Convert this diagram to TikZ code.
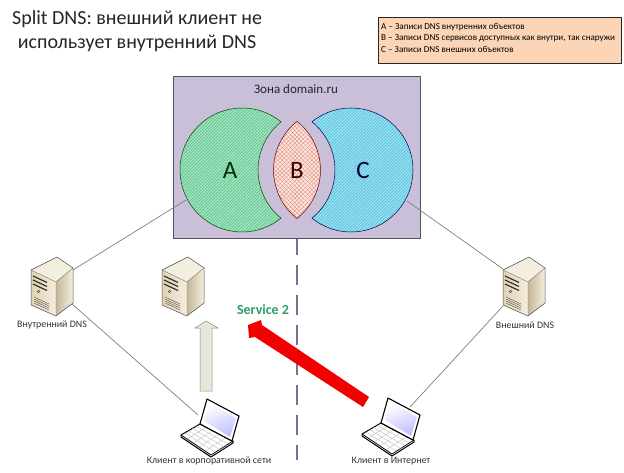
\documentclass[tikz,border=0pt]{standalone}
\usepackage{fontspec}
\setmainfont{Carlito}
\usetikzlibrary{patterns.meta,calc}
\definecolor{zonefill}{HTML}{C9BFD8}
\definecolor{zoneline}{HTML}{55505E}
\definecolor{legendfill}{HTML}{FBD5B5}
\definecolor{greenfill}{HTML}{9CE6BC}
\definecolor{greenhatch}{HTML}{4FA67C}
\definecolor{bluefill}{HTML}{90E2F4}
\definecolor{bluehatch}{HTML}{4FA8C4}
\definecolor{pinkfill}{HTML}{FDE6DE}
\definecolor{pinkhatch}{HTML}{E08A80}
\definecolor{linkgray}{HTML}{808080}
\definecolor{dashc}{HTML}{7A7090}
\definecolor{srvdark}{HTML}{B7A47E}
\definecolor{srvlight}{HTML}{F4EEDF}
\definecolor{srvmid}{HTML}{E2D3B2}
\definecolor{uparrow}{HTML}{E4E8D8}
\definecolor{svcgreen}{HTML}{2E9E6A}
\tikzset{
  x=1pt,y=1pt,
  link/.style={draw=linkgray,line width=.7pt},
  lab/.style={font=\fontsize{9.9}{11}\selectfont,text=black!80,inner sep=0pt},
  lobe/.style={line width=.5pt},
  bigletter/.style={font=\fontsize{25}{27}\selectfont,inner sep=0pt},
  leg/.style={font=\fontsize{9.1}{10}\selectfont,anchor=west,inner sep=0pt},
  title/.style={font=\fontsize{20}{22}\selectfont,inner sep=0pt,text=black!85},
  server/.pic={
    \begin{scope}[yscale=-1]
      \fill[srvlight] (0,0) -- (26,-13) -- (42,-2) -- (25,12) -- cycle;
      \shade[left color=srvmid,right color=srvlight] (0,0) -- (25,12) -- (25,46) -- (0,35) -- cycle;
      \shade[left color=srvdark!80,right color=srvlight] (25,12) -- (42,-2) -- (42,33) -- (25,46) -- cycle;
      \draw[black!70,line width=.5pt,line join=round] (0,0) -- (26,-13) -- (42,-2) -- (42,33) -- (25,46) -- (0,35) -- cycle;
      \draw[black!55,line width=.4pt] (0,0) -- (25,12) -- (42,-2) (25,12) -- (25,46);
      \foreach \s in {0,4,8}{\draw[black!80,line width=1.2pt] (2,6+\s) -- (16,12.5+\s);}
      \draw[black!70,line width=.5pt,fill=white] (7.5,21.5) circle[radius=1.2];
      \foreach \s in {0,2,4,6}{\draw[black!60,line width=.5pt] (3,27+\s) -- (18,34+\s);}
    \end{scope}
  },
  laptop/.pic={
    \begin{scope}[yscale=-1]
      \draw[black,line width=1pt,fill=white,line join=round] (-7,25) -- (-26,36) -- (-26,38) -- (4,58) -- (26,44) -- (26,42) -- (25,42) -- cycle;
      \draw[black,line width=.7pt] (-26,36) -- (4,56) -- (26,42);
      \foreach \s in {.2,.4,.6,.8}{
        \draw[black!25,line width=.4pt] ($(-7,25)!\s!(-26,36)$) -- ($(25,42)!\s!(4,56)$);
        \draw[black!25,line width=.4pt] ($(-7,25)!\s!(25,42)$) -- ($(-26,36)!\s!(4,56)$);
      }
      \draw[black,line width=1.1pt,fill=white,line join=round] (0,0) -- (32,17) -- (25,42) -- (-7,25) -- cycle;
      \shade[left color=white,right color=blue!25!white,shading angle=20] (3,4) -- (29,19) -- (23,38) -- (-3,22) -- cycle;
    \end{scope}
  },
}
\begin{document}
\begin{tikzpicture}
\useasboundingbox (0,0) rectangle (624,472);
\fill[white] (0,0) rectangle (624,472);

% title
\node[title] (t1) at (137,453) {Split DNS: внешний клиент не};
\node[title] (t2) at (137,429) {использует внутренний DNS};

% legend
\node[draw=black!85,line width=.9pt,fill=legendfill,minimum width=243pt,minimum height=46pt,inner sep=0pt] (legend) at (500,431.5) {};
\node[leg] (l1) at (381,445) {A – Записи DNS внутренних объектов};
\node[leg] (l2) at (381,434) {B – Записи DNS сервисов доступных как внутри, так снаружи};
\node[leg] (l3) at (381,423) {C – Записи DNS внешних объектов};

% divider
\coordinate (divtop) at (297,233);
\coordinate (divbot) at (297,12);
\draw[dashc,line width=2pt,dash pattern=on 20pt off 10pt,dash phase=4pt] (divtop) -- (divbot);

% zone
\node[draw=zoneline,line width=1pt,fill=zonefill,minimum width=247pt,minimum height=162pt,inner sep=0pt] (zone) at (296.5,314) {};
\node[font=\fontsize{13}{15}\selectfont,inner sep=0pt,text=black!85] (zlabel) at (296,383) {Зона domain.ru};

% lobes
\def\lobeA{(242,302) ++(51:62) arc[start angle=51,end angle=309,radius=62]
  arc[start angle=231,end angle=129,radius=62] -- cycle}
\def\lobeC{(351,302) ++(129:62) arc[start angle=129,end angle=-129,radius=62]
  arc[start angle=-51,end angle=51,radius=62] -- cycle}
\def\lobeB{(297,350.6) arc[start angle=51.6,end angle=-51.6,radius=62]
  arc[start angle=231.6,end angle=128.4,radius=62] -- cycle}
\fill[greenfill] \lobeA;
\fill[pattern={Lines[angle=45,distance=2.2pt,line width=.35pt]},pattern color=greenhatch] \lobeA;
\draw[lobe,draw=black!70!green] \lobeA;
\fill[bluefill] \lobeC;
\fill[pattern={Lines[angle=45,distance=2.2pt,line width=.35pt]},pattern color=bluehatch] \lobeC;
\draw[lobe,draw=black!70!blue] \lobeC;
\fill[pinkfill] \lobeB;
\fill[pattern={Lines[angle=45,distance=3pt,line width=.35pt]},pattern color=pinkhatch] \lobeB;
\fill[pattern={Lines[angle=-45,distance=3pt,line width=.35pt]},pattern color=pinkhatch] \lobeB;
\draw[lobe,draw=red!40!black] \lobeB;
\node[bigletter,text=green!20!black] (la) at (230,302) {A};
\node[bigletter,text=red!25!black] (lb) at (297,302) {B};
\node[bigletter,text=blue!25!black] (lc) at (363,302) {C};

% connection attach points
\coordinate (aedge) at (186,272);
\coordinate (cedge) at (407,271);
\coordinate (inR) at (73,202);
\coordinate (inB) at (72,168);
\coordinate (extL) at (503,203);
\coordinate (extB) at (503,166);
\coordinate (lapL) at (198,57);
\coordinate (lapR) at (410,65);
\draw[link] (inR) -- (aedge);
\draw[link] (extL) -- (cedge);
\draw[link] (inB) -- (lapL);
\draw[link] (extB) -- (lapR);

% servers
\pic (srv1) at (31,202) {server};
\pic (srv2) at (162,202) {server};
\pic (srv3) at (503,202) {server};
\node[lab] (n1) at (52,147) {Внутренний DNS};
\node[lab] (n3) at (525,147) {Внешний DNS};

% laptops
\pic (lap1) at (207,73) {laptop};
\pic (lap2) at (388,74) {laptop};
\node[lab] (n4) at (209,11) {Клиент в корпоративной сети};
\node[lab] (n5) at (391,11) {Клиент в Интернет};

% arrows
\draw[draw=black!45,line width=.5pt,fill=uparrow]
  (200,81) -- (200,144) -- (195,144) -- (206,151) -- (218,144) -- (212,144) -- (212,81) -- cycle;
\fill[red!95!black] (369,75) -- (363,65) -- (255,135) -- (249,134) -- (248,147) -- (261,152) -- (262,147) -- cycle;
\node[font=\fontsize{14}{16}\selectfont\bfseries,text=svcgreen,inner sep=0pt] (svc) at (263,162) {Service 2};
\end{tikzpicture}
\end{document}
